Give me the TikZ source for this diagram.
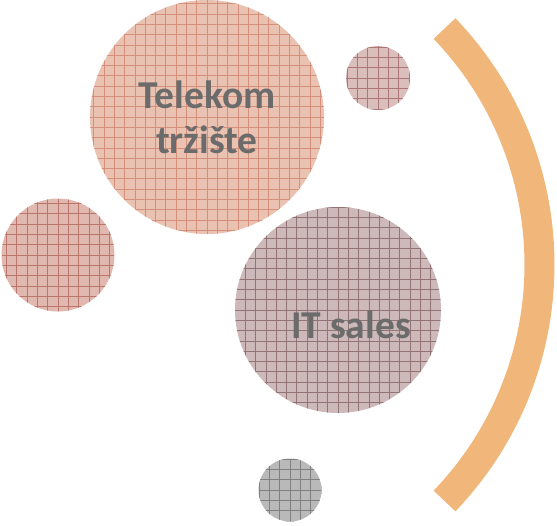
\documentclass[tikz,border=0pt]{standalone}
\usepackage{fontspec}
\setmainfont{Carlito}
\usepackage{tikz}

\definecolor{telekomfill}{HTML}{EAC2B2}
\definecolor{telekomgrid}{HTML}{D4907A}
\definecolor{mauvefill}{HTML}{D9BEBC}
\definecolor{mauvegrid}{HTML}{AC7676}
\definecolor{rosefill}{HTML}{E0B8B0}
\definecolor{rosegrid}{HTML}{BA766A}
\definecolor{salesfill}{HTML}{CDB9B9}
\definecolor{salesgrid}{HTML}{937474}
\definecolor{greyfill}{HTML}{B9B9B9}
\definecolor{greygrid}{HTML}{808080}
\definecolor{arcorange}{HTML}{F0B67A}
\definecolor{labelgrey}{HTML}{6B6B6B}

\tikzset{
  bubble/.style 2 args={circle, inner sep=0pt, fill=#1,
      path picture={\draw[#2, line width=0.7pt, step=10.3pt]
          (path picture bounding box.south west) grid
          (path picture bounding box.north east);}},
  bubbletext/.style={text=labelgrey, align=center,
      font=\bfseries\fontsize{39.5}{45}\selectfont}
}

\begin{document}
\begin{tikzpicture}[x=1pt, y=-1pt]
    \useasboundingbox (0,0) rectangle (557,525);
    % circles
    \node[bubble={telekomfill}{telekomgrid}, minimum size=234pt] (telekom) at (207,117) {};
    \node[bubble={mauvefill}{mauvegrid}, minimum size=64pt] (topdot) at (378,78) {};
    \node[bubble={rosefill}{rosegrid}, minimum size=113pt] (leftdot) at (58,255) {};
    \node[bubble={salesfill}{salesgrid}, minimum size=206pt] (itsales) at (338,310) {};
    \node[bubble={greyfill}{greygrid}, minimum size=63pt] (bottomdot) at (290,490) {};
    % labels
    \node[bubbletext] at (telekom.center) {Telekom\\tržište};
    \node[bubbletext] at ([xshift=13pt, yshift=-15pt]itsales.center) {IT sales};
    % bracket arc
    \coordinate (arccentre) at (198.2,264.75);
    \draw[arcorange, line width=30pt] (arccentre) ++(43.8:341.3)
        arc[start angle=43.8, end angle=-43.8, radius=341.3];
\end{tikzpicture}
\end{document}
